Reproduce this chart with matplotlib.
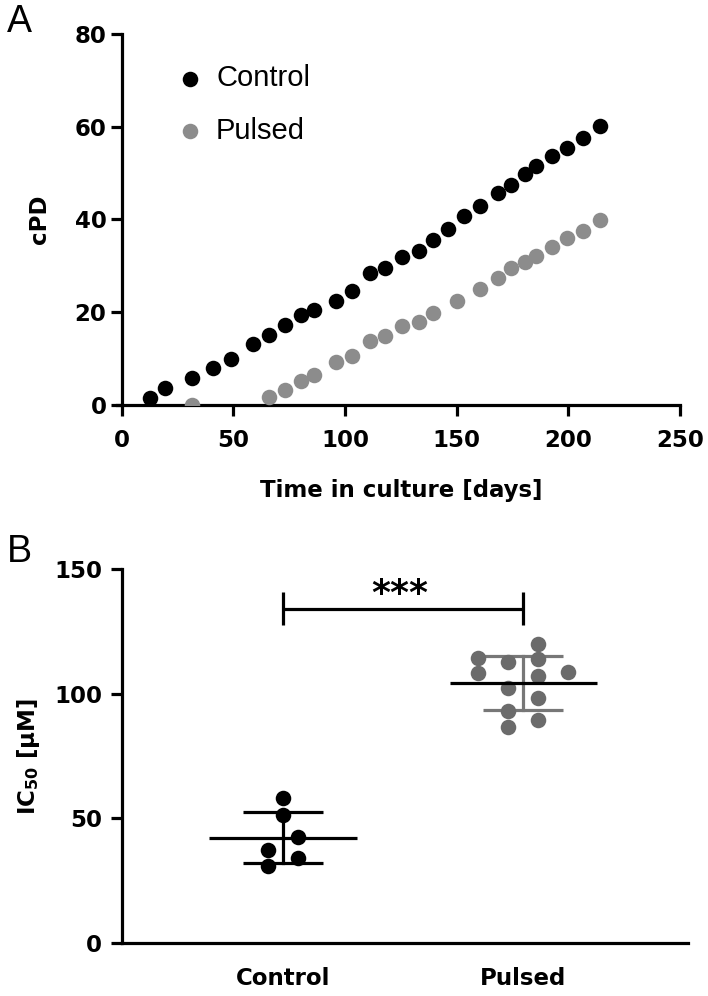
import matplotlib
matplotlib.use("Agg")
import matplotlib.pyplot as plt
import numpy as np

plt.rcParams['font.family'] = ['DejaVu Sans']
plt.rcParams['mathtext.default'] = 'regular'

# ---------------- Data ----------------
control_days = [12.7, 19.6, 31.7, 40.7, 48.8, 58.9, 65.9, 73.1, 80.1, 86.1, 95.9, 103.2,
                111.1, 118.1, 125.3, 133.2, 139.2, 146.3, 153.2, 160.4, 168.6, 174.5,
                180.5, 185.5, 192.5, 199.5, 206.4, 214.4]
control_cpd = [1.6, 3.6, 5.9, 7.9, 9.9, 13.1, 15.0, 17.3, 19.4, 20.5, 22.5, 24.5,
               28.4, 29.6, 32.0, 33.3, 35.6, 37.9, 40.7, 43.0, 45.7, 47.5,
               49.9, 51.6, 53.7, 55.5, 57.6, 60.1]
pulsed_days = [31.7, 65.9, 73.1, 80.1, 86.1, 96.1, 103.2, 111.1, 118.1, 125.3, 133.2,
               139.2, 150.2, 160.4, 168.3, 174.5, 180.5, 185.7, 192.5, 199.5, 206.4, 214.4]
pulsed_cpd = [0.0, 1.7, 3.3, 5.1, 6.5, 9.2, 10.6, 13.8, 14.8, 17.1, 17.9,
              19.8, 22.5, 25.0, 27.4, 29.5, 30.8, 32.2, 34.1, 36.1, 37.6, 39.8]

groups = ["Control", "Pulsed"]
ic50_control = [58.1, 51.4, 42.4, 37.3, 34.3, 30.9]
ic50_control_x = [0, 0, 1, -1, 1, -1]          # swarm slot offsets
ic50_pulsed = [120.1, 114.3, 112.6, 113.9, 108.3, 108.7, 107.0, 102.5, 98.5, 93.3, 89.6, 86.6]
ic50_pulsed_x = [1, -3, -1, 1, -3, 3, 1, -1, 1, -1, 1, -1]
ic50_mean = [42.3, 104.5]
ic50_sd = [10.3, 10.8]
signif = "***"

# ---------------- Figure ----------------
W, H = 708, 996
fig = plt.figure(figsize=(W / 100, H / 100), dpi=100)

LW = 2.3
TICKFS = 16.5
LABFS = 16.5
BOLD = dict(family='DejaVu Sans', weight='bold')
REG = 'Liberation Sans'

# Panel A
axA = fig.add_axes([121.7 / W, 1 - 405 / H, (680 - 121.7) / W, (405 - 34) / H])
axA.scatter(control_days, control_cpd, s=125, color='black', label='Control', zorder=3, linewidths=0)
axA.scatter(pulsed_days, pulsed_cpd, s=125, color='#8c8c8c', label='Pulsed', zorder=3, linewidths=0)
axA.set_xlim(0, 250)
axA.set_ylim(0, 80)
axA.set_xticks([0, 50, 100, 150, 200, 250])
axA.set_yticks([0, 20, 40, 60, 80])
axA.set_xlabel('Time in culture [days]', fontsize=LABFS, labelpad=20, **BOLD)
axA.set_ylabel('cPD', fontsize=LABFS, labelpad=17, **BOLD)
for s in ['top', 'right']:
    axA.spines[s].set_visible(False)
for s in ['left', 'bottom']:
    axA.spines[s].set_linewidth(LW)
axA.spines['bottom'].set_bounds(-2, 250)
axA.tick_params(axis='y', width=LW, length=8, labelsize=TICKFS, pad=3)
axA.tick_params(axis='x', width=LW, length=8, labelsize=TICKFS, pad=9)
for lab in axA.get_xticklabels() + axA.get_yticklabels():
    lab.set_fontweight('bold')
leg = axA.legend(loc='upper left', bbox_to_anchor=(0.075, 0.95), frameon=False,
                 prop={'family': REG, 'size': 21}, handletextpad=0.4, labelspacing=0.85,
                 markerscale=1.0, handlelength=1.0, borderaxespad=0)
fig.text(19.5 / W, 1 - 21.7 / H, 'A', fontsize=27, ha='center', va='center', family=REG)

# Panel B
axB = fig.add_axes([121.7 / W, 1 - 943 / H, (688 - 121.7) / W, (943 - 569.3) / H])
xpos = [1, 2]
step = 0.0625
pt_colors = ['black', '#6b6b6b']
err_colors = ['black', '#777777']
vals = [ic50_control, ic50_pulsed]
offs = [ic50_control_x, ic50_pulsed_x]
for i in range(2):
    xs = [xpos[i] + o * step for o in offs[i]]
    axB.scatter(xs, vals[i], s=125, color=pt_colors[i], zorder=3, linewidths=0, clip_on=False)
    m, sd = ic50_mean[i], ic50_sd[i]
    axB.plot([xpos[i] - 0.307, xpos[i] + 0.307], [m, m], color='black', lw=LW, zorder=4,
             solid_capstyle='butt')
    axB.plot([xpos[i], xpos[i]], [m - sd, m + sd], color=err_colors[i], lw=LW, zorder=2)
    for yy in (m - sd, m + sd):
        axB.plot([xpos[i] - 0.167, xpos[i] + 0.167], [yy, yy], color=err_colors[i], lw=LW,
                 zorder=2, solid_capstyle='butt')

# significance bracket
yb = 134.1
axB.plot([1, 2], [yb, yb], color='black', lw=LW, solid_capstyle='butt')
axB.plot([1, 1], [127.7, 140.7], color='black', lw=LW, solid_capstyle='butt')
axB.plot([2, 2], [127.7, 140.7], color='black', lw=LW, solid_capstyle='butt')
axB.text(1.485, 140.2, signif, ha='center', va='center', fontsize=26, **BOLD)

axB.set_xlim(0.329, 2.685)
axB.set_ylim(0, 150)
axB.set_yticks([0, 50, 100, 150])
axB.set_xticks(xpos)
axB.set_xticklabels(groups)
axB.set_ylabel(r'IC$_{50}$ [μM]', fontsize=LABFS, labelpad=9, **BOLD)
for s in ['top', 'right']:
    axB.spines[s].set_visible(False)
for s in ['left', 'bottom']:
    axB.spines[s].set_linewidth(LW)
axB.tick_params(axis='y', width=LW, length=8, labelsize=TICKFS, pad=6)
axB.tick_params(axis='x', length=0, labelsize=TICKFS, pad=17)
for lab in axB.get_xticklabels() + axB.get_yticklabels():
    lab.set_fontweight('bold')
fig.text(19 / W, 1 - 552 / H, 'B', fontsize=27, ha='center', va='center', family=REG)

fig.savefig('out.png', dpi=100)
